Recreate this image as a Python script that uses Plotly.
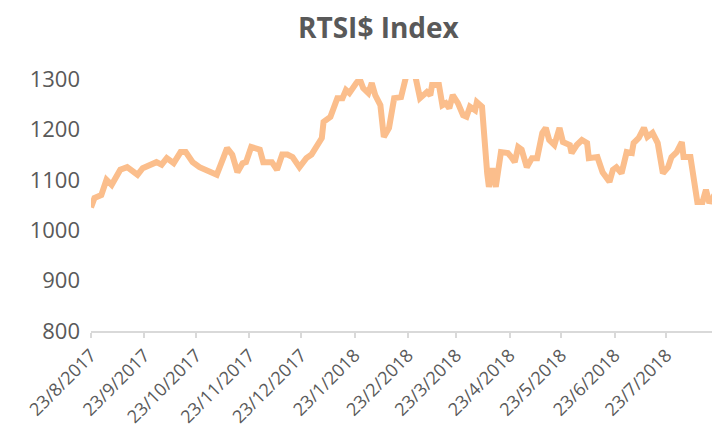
import plotly.graph_objects as go

dates = [
    "2017-08-23", "2017-08-25", "2017-08-29", "2017-09-01", "2017-09-04", "2017-09-09",
    "2017-09-13", "2017-09-15", "2017-09-19", "2017-09-22", "2017-09-27", "2017-09-30",
    "2017-10-03", "2017-10-06", "2017-10-10", "2017-10-14", "2017-10-17", "2017-10-21",
    "2017-10-25", "2017-10-28", "2017-11-01", "2017-11-04", "2017-11-08", "2017-11-10",
    "2017-11-13", "2017-11-16", "2017-11-19", "2017-11-21", "2017-11-24", "2017-11-29",
    "2017-12-01", "2017-12-06", "2017-12-09", "2017-12-12", "2017-12-15", "2017-12-18",
    "2017-12-22", "2017-12-26", "2017-12-29", "2018-01-02", "2018-01-04", "2018-01-05",
    "2018-01-09", "2018-01-13", "2018-01-16", "2018-01-18", "2018-01-20", "2018-01-24",
    "2018-01-26", "2018-01-28", "2018-01-31", "2018-02-02", "2018-02-04", "2018-02-07",
    "2018-02-09", "2018-02-12", "2018-02-15", "2018-02-19", "2018-02-21", "2018-02-23",
    "2018-02-25", "2018-02-27", "2018-03-02", "2018-03-06", "2018-03-08", "2018-03-09",
    "2018-03-13", "2018-03-15", "2018-03-17", "2018-03-19", "2018-03-21", "2018-03-24",
    "2018-03-27", "2018-03-29", "2018-03-31", "2018-04-03", "2018-04-04", "2018-04-07",
    "2018-04-10", "2018-04-11", "2018-04-13", "2018-04-15", "2018-04-18", "2018-04-22",
    "2018-04-24", "2018-04-26", "2018-04-28", "2018-04-30", "2018-05-03", "2018-05-06",
    "2018-05-09", "2018-05-12", "2018-05-14", "2018-05-16", "2018-05-19", "2018-05-22",
    "2018-05-24", "2018-05-28", "2018-05-29", "2018-06-01", "2018-06-04", "2018-06-07",
    "2018-06-08", "2018-06-13", "2018-06-16", "2018-06-20", "2018-06-22", "2018-06-24",
    "2018-06-27", "2018-06-30", "2018-07-03", "2018-07-04", "2018-07-07", "2018-07-10",
    "2018-07-12", "2018-07-15", "2018-07-18", "2018-07-21", "2018-07-24", "2018-07-26",
    "2018-07-29", "2018-08-01", "2018-08-02", "2018-08-06", "2018-08-10", "2018-08-13",
    "2018-08-15", "2018-08-17", "2018-08-20", "2018-08-21",
]
rtsi_values = [
    1045, 1064, 1070, 1100, 1090, 1120,
    1125, 1120, 1110, 1123, 1130, 1135,
    1130, 1143, 1133, 1155, 1155, 1135,
    1125, 1120, 1115, 1110, 1145, 1163,
    1150, 1115, 1133, 1135, 1165, 1160,
    1135, 1135, 1120, 1150, 1150, 1145,
    1125, 1143, 1150, 1173, 1183, 1215,
    1225, 1262, 1262, 1278, 1272, 1292,
    1300, 1282, 1272, 1292, 1268, 1248,
    1185, 1203, 1262, 1264, 1294, 1320,
    1330, 1310, 1262, 1274, 1268, 1288,
    1288, 1248, 1252, 1242, 1268, 1252,
    1228, 1225, 1245, 1238, 1254, 1245,
    1113, 1086, 1123, 1086, 1155, 1153,
    1145, 1135, 1165, 1160, 1125, 1143,
    1143, 1193, 1203, 1179, 1169, 1203,
    1175, 1169, 1153, 1169, 1179, 1173,
    1143, 1145, 1115, 1096, 1120, 1125,
    1113, 1155, 1153, 1173, 1183, 1203,
    1185, 1193, 1173, 1113, 1125, 1145,
    1155, 1175, 1145, 1145, 1056, 1056,
    1080, 1054, 1070, 1070,
]

tick_dates = [
    "2017-08-23", "2017-09-23", "2017-10-23", "2017-11-23", "2017-12-23", "2018-01-23",
    "2018-02-23", "2018-03-23", "2018-04-23", "2018-05-23", "2018-06-23", "2018-07-23",
]
tick_labels = [
    "23/8/2017", "23/9/2017", "23/10/2017", "23/11/2017", "23/12/2017", "23/1/2018",
    "23/2/2018", "23/3/2018", "23/4/2018", "23/5/2018", "23/6/2018", "23/7/2018",
]
y_ticks = [800, 900, 1000, 1100, 1200, 1300]
chart_title = "RTSI$ Index"

fig = go.Figure()
fig.add_trace(go.Scatter(
    x=dates, y=rtsi_values, mode="lines",
    line=dict(color="#FBBE8C", width=6),
    hoverinfo="x+y", showlegend=False,
))

# The page adds an 8px body margin, so the figure is sized/offset to compensate.
fig.update_layout(
    width=712, height=424,
    margin=dict(l=83, r=2, t=71, b=101),
    paper_bgcolor="white", plot_bgcolor="white",
    font=dict(family="Open Sans", color="#595959"),
    annotations=[dict(
        text="<b>" + chart_title + "</b>", xref="paper", yref="paper",
        x=0.4593, y=1.206, xanchor="center", yanchor="middle", showarrow=False,
        font=dict(family="Open Sans", size=28, color="#595959"),
    )],
)
fig.update_xaxes(
    type="date", range=["2017-08-23", "2018-08-22"],
    tickvals=tick_dates, ticktext=tick_labels, tickangle=-45,
    tickfont=dict(size=18, color="#595959"),
    showgrid=False, zeroline=False,
    showline=True, linecolor="#D9D9D9", linewidth=1.5,
    ticks="outside", ticklen=5, tickcolor="#D9D9D9", tickwidth=1.5,
)
fig.update_yaxes(
    range=[800, 1300], tickvals=y_ticks,
    tickfont=dict(size=22, color="#595959"),
    showgrid=False, zeroline=False, showline=False, ticks="",
    ticklabelstandoff=10,
)

fig.write_html("out.html")
